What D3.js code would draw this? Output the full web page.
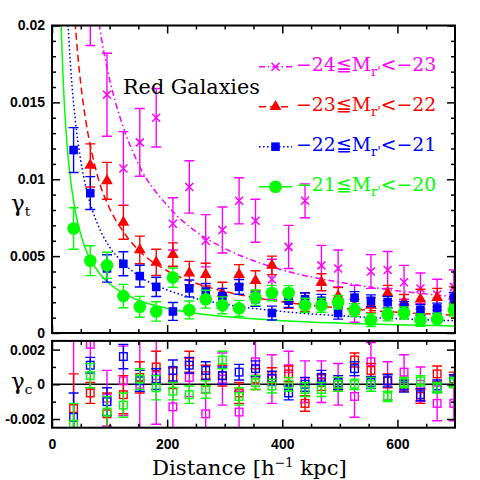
<!DOCTYPE html>
<html><head><meta charset="utf-8">
<script src="https://cdn.jsdelivr.net/npm/d3@7"></script>
<style>body{margin:0;background:#fff}svg{display:block}</style>
</head><body><svg id="c" width="480" height="480"></svg>
<script>
// ---------------- data ----------------
const distances = [37.5, 66.5, 95.5, 124, 152.5, 181, 210, 238.5, 267, 296, 325, 353.5, 382, 411, 439.5, 468, 497, 525.5, 554, 583, 611.5, 640, 669, 698];

const seriesKeys = ["m24", "m23", "m22", "m21"];
const legendMag = [["−24", "−23"], ["−23", "−22"], ["−22", "−21"], ["−21", "−20"]];
const colors = ["#ff00ff", "#ff0000", "#0000ff", "#00ff00"];

// tangential shear (top panel)
const gammaT_m24 = [null, 0.0225, 0.0155, 0.0107, 0.0124, 0.0140, 0.0071, 0.0095, 0.0060, 0.0067, 0.0086, 0.0073, 0.0035, 0.0056, 0.0086, 0.0044, 0.0042, 0.0019, 0.0040, 0.0041, 0.0033, 0.0029, 0.0025, 0.0030];
const errT_m24   = [null, 0.0038, 0.0027, 0.0024, 0.0022, 0.0019, 0.0017, 0.0017, 0.0017, 0.0015, 0.0015, 0.0014, 0.0013, 0.0014, 0.0011, 0.0013, 0.0012, 0.0012, 0.0011, 0.0012, 0.0011, 0.0010, 0.0010, 0.0011];
const gammaT_m23 = [null, 0.0109, 0.0099, 0.0072, 0.0054, 0.0046, 0.0051, 0.0039, 0.0038, 0.0026, 0.0038, 0.0034, 0.0044, 0.0022, 0.0020, 0.0033, 0.0024, 0.0017, 0.0018, 0.0026, 0.0020, 0.0022, 0.0023, 0.0024];
const errT_m23   = [null, 0.0014, 0.0012, 0.0011, 0.0009, 0.00085, 0.00076, 0.00076, 0.00074, 0.0007, 0.00065, 0.00065, 0.0006, 0.0006, 0.0006, 0.00055, 0.00055, 0.0005, 0.0005, 0.0005, 0.0005, 0.00065, 0.0006, 0.0006];
const gammaT_m22 = [0.0119, 0.0091, 0.0042, 0.0045, 0.0037, 0.0030, 0.0014, 0.0029, 0.0027, 0.0024, 0.0030, 0.0022, 0.0013, 0.0021, 0.0022, 0.0021, 0.0013, 0.0023, 0.0021, 0.0020, 0.0017, 0.0015, 0.0016, 0.0023];
const errT_m22   = [0.00146, 0.00107, 0.00089, 0.00078, 0.00071, 0.00063, 0.00058, 0.00055, 0.00052, 0.0005, 0.00048, 0.00046, 0.00045, 0.00044, 0.00042, 0.00041, 0.0004, 0.00039, 0.00038, 0.00037, 0.00036, 0.00035, 0.00034, 0.00034];
const gammaT_m21 = [0.0068, 0.0047, 0.0044, 0.0024, 0.0017, 0.0014, 0.0036, 0.0015, 0.0022, 0.0018, 0.0016, 0.0023, 0.0026, 0.0026, 0.0018, 0.0018, 0.0020, 0.0015, 0.00084, 0.0012, 0.0013, 0.00084, 0.0009, 0.0015];
const errT_m21   = [0.00135, 0.00097, 0.00085, 0.00076, 0.00068, 0.00063, 0.00063, 0.00058, 0.00058, 0.00055, 0.00052, 0.0005, 0.0005, 0.00048, 0.00046, 0.00045, 0.00044, 0.00043, 0.00042, 0.00041, 0.0004, 0.0004, 0.00039, 0.00039];

// cross shear (bottom panel)
const gammaC_m24 = [-0.0035, 0.0023, -0.0008, 0.0002, 0.0000, 0.0005, -0.0013, 0.0004, -0.0017, 0.0003, -0.0016, 0.0013, 0.0003, 0.0009, 0.00015, 0.00015, 0.0000, -0.0007, 0.0013, 0.0002, 0.0007, 0.0000, -0.0011, -0.0011];
const errC_m24   = [0.006, 0.0025, 0.0016, 0.002, 0.0035, 0.0028, 0.0014, 0.0011, 0.0012, 0.0015, 0.0012, 0.0013, 0.0014, 0.0010, 0.0012, 0.0012, 0.0012, 0.0012, 0.0011, 0.0011, 0.001, 0.001, 0.0010, 0.0010];
const gammaC_m23 = [-0.0014, -0.0005, -0.0017, -0.0006, 0.0004, 0.0010, 0.00035, 0.0013, 0.0005, 0.0005, -0.0005, 0.0003, 0.0005, 0.0006, -0.0011, 0.0001, 0.0000, 0.0014, 0.0008, 0.0002, 0.0000, -0.0007, 0.0006, 0.0003];
const errC_m23   = [0.0020, 0.0006, 0.0012, 0.0011, 0.0009, 0.0009, 0.0006, 0.0006, 0.0006, 0.0006, 0.0006, 0.0006, 0.00045, 0.00045, 0.00045, 0.00045, 0.0004, 0.0004, 0.0004, 0.0004, 0.0004, 0.0004, 0.00045, 0.0004];
const gammaC_m22 = [-0.0019, 0.0011, -0.0010, 0.0016, 0.0002, 0.0003, 0.0008, 0.0011, 0.0008, 0.0005, 0.0007, 0.0009, 0.00035, -0.0005, 0.0000, 0.0004, 0.0001, 0.0009, 0.0001, 0.0002, -0.0001, -0.0006, -0.0001, 0.0002];
const errC_m22   = [0.0014, 0.00045, 0.0008, 0.0007, 0.0006, 0.0006, 0.0006, 0.00045, 0.0005, 0.0005, 0.00045, 0.00045, 0.0004, 0.0004, 0.0004, 0.0004, 0.0004, 0.0004, 0.00035, 0.00035, 0.00035, 0.00035, 0.00035, 0.00035];
const gammaC_m21 = [-0.0023, 0.0005, -0.0016, -0.0012, 0.0003, -0.0002, -0.0004, -0.0006, -0.0003, 0.0014, -0.0007, 0.0001, -0.0001, 0.0000, -0.0003, -0.0003, 0.0000, 0.0000, 0.0000, -0.0007, 0.0001, 0.0002, -0.0002, 0.0001];
const errC_m21   = [0.0012, 0.0007, 0.0009, 0.0007, 0.0006, 0.0007, 0.0005, 0.0005, 0.0005, 0.0005, 0.0005, 0.0004, 0.0004, 0.0004, 0.0004, 0.0004, 0.0004, 0.0003, 0.0004, 0.0003, 0.0003, 0.0003, 0.0003, 0.0003];

// model fit curves
const fitDist_m24 = [70, 80, 90, 100, 120, 150, 200, 250, 300, 350, 400, 500, 600, 700];
const fitVal_m24  = [0.0236, 0.0206, 0.0183, 0.0165, 0.0138, 0.0110, 0.0083, 0.0066, 0.0055, 0.0047, 0.0041, 0.0033, 0.00275, 0.00236];
const fitDist_m23 = [35, 40, 45, 50, 60, 70, 80, 100, 120, 150, 200, 250, 300, 400, 500, 600, 700];
const fitVal_m23  = [0.0231, 0.0203, 0.0180, 0.0162, 0.0135, 0.0116, 0.0101, 0.0081, 0.0068, 0.0054, 0.00405, 0.00324, 0.0027, 0.00203, 0.00162, 0.00135, 0.00116];
const fitDist_m22 = [22, 25, 30, 35, 40, 50, 60, 70, 80, 100, 120, 150, 200, 250, 300, 400, 500, 600, 700];
const fitVal_m22  = [0.0255, 0.0224, 0.0187, 0.0160, 0.0140, 0.0112, 0.0093, 0.0080, 0.0070, 0.0056, 0.0047, 0.00373, 0.0028, 0.00224, 0.00187, 0.0014, 0.00112, 0.00093, 0.0008];
const fitDist_m21 = [12, 15, 20, 25, 30, 40, 50, 60, 70, 80, 100, 120, 150, 200, 250, 300, 400, 500, 600, 700];
const fitVal_m21  = [0.0267, 0.0213, 0.0160, 0.0128, 0.0107, 0.0080, 0.0064, 0.0053, 0.0046, 0.0040, 0.0032, 0.00267, 0.00213, 0.0016, 0.00128, 0.00107, 0.0008, 0.00064, 0.00053, 0.00046];

const xMajorTicks = [0, 200, 400, 600];
const xMinorTicks = [50, 100, 150, 250, 300, 350, 450, 500, 550, 650];
const xTickLabels = ["0", "200", "400", "600"];
const yTopMajor = [0, 0.005, 0.01, 0.015, 0.02];
const yTopLabels = ["0", "0.005", "0.01", "0.015", "0.02"];
const yTopMinor = [0.001, 0.002, 0.003, 0.004, 0.006, 0.007, 0.008, 0.009, 0.011, 0.012, 0.013, 0.014, 0.016, 0.017, 0.018, 0.019];
const yBotMajor = [-0.002, 0, 0.002];
const yBotLabels = ["-0.002", "0", "0.002"];
const yBotMinor = [-0.001, 0.001];

// ---------------- build ----------------
const T = {m24: gammaT_m24, m23: gammaT_m23, m22: gammaT_m22, m21: gammaT_m21};
const TE = {m24: errT_m24, m23: errT_m23, m22: errT_m22, m21: errT_m21};
const C = {m24: gammaC_m24, m23: gammaC_m23, m22: gammaC_m22, m21: gammaC_m21};
const CE = {m24: errC_m24, m23: errC_m23, m22: errC_m22, m21: errC_m21};
const FD = {m24: fitDist_m24, m23: fitDist_m23, m22: fitDist_m22, m21: fitDist_m21};
const FV = {m24: fitVal_m24, m23: fitVal_m23, m22: fitVal_m22, m21: fitVal_m21};
const dashes = {m24: "6,3,1.5,3", m23: "7,4", m22: "1.6,2.4", m21: null};
const shapes = {m24: "cross", m23: "tri", m22: "sq", m21: "circ"};

const svg = d3.select("#c");
const L = 52, R = 455;
const x = d3.scaleLinear().domain([0, 700]).range([L, R]);
const yT = d3.scaleLinear().domain([0, 0.02]).range([333, 25.5]);
const yC = d3.scaleLinear().domain([-0.0025, 0.0025]).range([427.7, 340.9]);

const defs = svg.append("defs");
defs.append("clipPath").attr("id", "clipT").append("rect")
  .attr("x", L).attr("y", yT(0.02)).attr("width", R - L).attr("height", yT(0) - yT(0.02));
defs.append("clipPath").attr("id", "clipC").append("rect")
  .attr("x", L).attr("y", yC(0.0025)).attr("width", R - L).attr("height", yC(-0.0025) - yC(0.0025));

const gT = svg.append("g").attr("clip-path", "url(#clipT)");
const gC = svg.append("g").attr("clip-path", "url(#clipC)");

function marker(g, shape, cx, cy, col) {
  if (shape === "cross") {
    const s = 4;
    g.append("path").attr("d", `M${cx-s},${cy-s}L${cx+s},${cy+s}M${cx-s},${cy+s}L${cx+s},${cy-s}`)
      .attr("stroke", col).attr("stroke-width", 1.5).attr("fill", "none");
  } else if (shape === "tri") {
    g.append("path").attr("d", d3.symbol(d3.symbolTriangle, 60)()).attr("transform", `translate(${cx},${cy})`).attr("fill", col);
  } else if (shape === "sq") {
    g.append("rect").attr("x", cx - 4.3).attr("y", cy - 4.3).attr("width", 8.6).attr("height", 8.6).attr("fill", col);
  } else if (shape === "circ") {
    g.append("circle").attr("cx", cx).attr("cy", cy).attr("r", 6.3).attr("fill", col);
  }
}
function errbar(g, cx, y1, y2, col) {
  g.append("path").attr("d", `M${cx},${y1}L${cx},${y2}M${cx-5},${y1}L${cx+5},${y1}M${cx-5},${y2}L${cx+5},${y2}`)
    .attr("stroke", col).attr("stroke-width", 1.4).attr("fill", "none");
}

// top panel curves
seriesKeys.forEach((k, i) => {
  const pts = FD[k].map((d, j) => [d, FV[k][j]]);
  const line = d3.line().x(p => x(p[0])).y(p => yT(p[1])).curve(d3.curveMonotoneX);
  gT.append("path").attr("d", line(pts)).attr("fill", "none").attr("stroke", colors[i])
    .attr("stroke-width", 1.5).attr("stroke-dasharray", dashes[k]);
});
// top panel points
seriesKeys.forEach((k, i) => {
  const g = gT.append("g");
  distances.forEach((d, j) => {
    const v = T[k][j]; if (v === null) return;
    const e = TE[k][j];
    errbar(g, x(d), yT(v + e), yT(v - e), colors[i]);
    marker(g, shapes[k], x(d), yT(v), colors[i]);
  });
});
// bottom panel
gC.append("line").attr("x1", x(0)).attr("x2", x(700)).attr("y1", yC(0)).attr("y2", yC(0))
  .attr("stroke", "#000").attr("stroke-width", 1.6);
seriesKeys.forEach((k, i) => {
  const g = gC.append("g");
  distances.forEach((d, j) => {
    const v = C[k][j], e = CE[k][j];
    errbar(g, x(d), yC(v + e), yC(v - e), colors[i]);
    g.append("rect").attr("x", x(d) - 3.8).attr("y", yC(v) - 3.8).attr("width", 7.6).attr("height", 7.6)
      .attr("fill", "none").attr("stroke", colors[i]).attr("stroke-width", 1.4);
  });
});

// axes
function styleAxis(g) {
  g.select(".domain").remove();
  g.selectAll("line").attr("stroke", "#000").attr("stroke-width", 1.5);
  g.selectAll("text").attr("font-family", "'Liberation Sans', Arial, sans-serif")
    .attr("font-weight", "bold").attr("font-size", 14).attr("fill", "#000");
}
function panelAxes(ys, yMaj, yMin, yLabels, showX) {
  const y0 = ys.range()[0], y1 = ys.range()[1];
  const fmtX = showX ? ((d, i) => xTickLabels[i]) : () => "";
  svg.append("g").attr("transform", `translate(0,${y0})`)
    .call(d3.axisBottom(x).tickValues(xMajorTicks).tickSize(-8).tickPadding(11).tickFormat(fmtX)).call(styleAxis);
  svg.append("g").attr("transform", `translate(0,${y0})`)
    .call(d3.axisBottom(x).tickValues(xMinorTicks).tickSize(-4).tickFormat("")).call(styleAxis);
  svg.append("g").attr("transform", `translate(0,${y1})`)
    .call(d3.axisTop(x).tickValues(xMajorTicks).tickSize(-8).tickFormat("")).call(styleAxis);
  svg.append("g").attr("transform", `translate(0,${y1})`)
    .call(d3.axisTop(x).tickValues(xMinorTicks).tickSize(-4).tickFormat("")).call(styleAxis);
  svg.append("g").attr("transform", `translate(${L},0)`)
    .call(d3.axisLeft(ys).tickValues(yMaj).tickSize(-8).tickPadding(7).tickFormat((d, i) => yLabels[i])).call(styleAxis);
  svg.append("g").attr("transform", `translate(${L},0)`)
    .call(d3.axisLeft(ys).tickValues(yMin).tickSize(-4).tickFormat("")).call(styleAxis);
  svg.append("g").attr("transform", `translate(${R},0)`)
    .call(d3.axisRight(ys).tickValues(yMaj).tickSize(-8).tickFormat("")).call(styleAxis);
  svg.append("g").attr("transform", `translate(${R},0)`)
    .call(d3.axisRight(ys).tickValues(yMin).tickSize(-4).tickFormat("")).call(styleAxis);
  svg.append("rect").attr("x", L).attr("y", y1).attr("width", R - L).attr("height", y0 - y1)
    .attr("fill", "none").attr("stroke", "#000").attr("stroke-width", 2);
}
panelAxes(yT, yTopMajor, yTopMinor, yTopLabels, false);
panelAxes(yC, yBotMajor, yBotMinor, yBotLabels, true);

// text helpers
const SERIF = "'DejaVu Serif', 'Liberation Serif', serif";
function fit(sel, target) {
  const w = sel.node().getComputedTextLength();
  sel.attr("font-size", parseFloat(sel.attr("font-size")) * target / w);
}

// Red Galaxies
fit(svg.append("text").attr("x", 123).attr("y", 94).attr("font-family", SERIF).attr("font-size", 20)
  .attr("fill", "#000").text("Red Galaxies"), 137);

// legend
const legY = [66.7, 106.7, 146.7, 186.7];
seriesKeys.forEach((k, i) => {
  const yy = legY[i], col = colors[i];
  const g = svg.append("g");
  g.append("line").attr("x1", 259).attr("x2", 292).attr("y1", yy).attr("y2", yy)
    .attr("stroke", col).attr("stroke-width", 1.5).attr("stroke-dasharray", dashes[k]);
  marker(g, shapes[k], 275.5, yy, col);
  const t = g.append("text").attr("x", 296).attr("y", yy + 4.5).attr("font-family", SERIF)
    .attr("font-size", 18).attr("fill", col);
  t.append("tspan").text(legendMag[i][0] + "≦M");
  t.append("tspan").attr("dy", 5).style("font-size", "70%").text("r'");
  t.append("tspan").attr("dy", -5).text("<" + legendMag[i][1]);
  fit(t, 140);
});

// axis titles
const xt = svg.append("text").attr("x", 152).attr("y", 475).attr("font-family", SERIF)
  .attr("font-size", 20).attr("fill", "#000");
xt.append("tspan").text("Distance [h");
xt.append("tspan").attr("dy", -8).style("font-size", "60%").text("−1");
xt.append("tspan").attr("dy", 8).text(" kpc]");
fit(xt, 195);

function gammaLabel(yBase, sub) {
  const t = svg.append("text").attr("x", 11).attr("y", yBase).attr("font-family", SERIF)
    .attr("font-size", 23).attr("fill", "#000");
  t.append("tspan").text("γ");
  t.append("tspan").attr("dy", 5).style("font-size", "60%").text(sub);
}
gammaLabel(211, "t");
gammaLabel(389, "c");
</script></body></html>
